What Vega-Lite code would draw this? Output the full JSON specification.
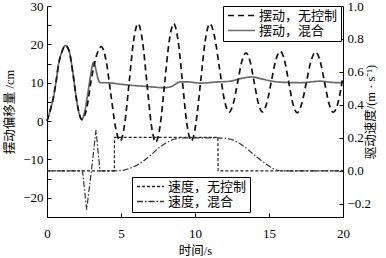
{
  "$schema": "https://vega.github.io/schema/vega-lite/v6.json",
  "width": 296,
  "height": 211,
  "autosize": "none",
  "padding": {"left": 47, "top": 6, "right": 43, "bottom": 41},
  "config": {
    "view": {"stroke": null},
    "axis": {
      "grid": false,
      "domainColor": "#000",
      "domainWidth": 1,
      "tickColor": "#000",
      "tickSize": -4,
      "labelColor": "#000",
      "labelFont": "Liberation Serif",
      "labelFontSize": 13,
      "labelFlush": false,
      "labelPadding": 8,
      "titleFont": "Liberation Serif, Noto Sans CJK SC",
      "titleFontSize": 12.5,
      "titleFontWeight": "normal",
      "titleColor": "#000"
    },
    "legend": {
      "orient": "none",
      "title": null,
      "strokeColor": "#000",
      "padding": 3,
      "fillColor": "#fff",
      "labelFont": "Liberation Serif, Noto Sans CJK SC",
      "labelFontSize": 13,
      "labelColor": "#000",
      "labelOffset": 20,
      "symbolType": "M-1,0H5",
      "symbolSize": 81,
      "rowPadding": 1
    }
  },
  "datasets": {
    "disp": [
      {"t": 0, "v": 0, "k": "摆动，混合"},
      {"t": 0.25, "v": 3.3, "k": "摆动，混合"},
      {"t": 0.45, "v": 6.5, "k": "摆动，混合"},
      {"t": 0.62, "v": 10.5, "k": "摆动，混合"},
      {"t": 0.79, "v": 15, "k": "摆动，混合"},
      {"t": 1.0, "v": 18, "k": "摆动，混合"},
      {"t": 1.24, "v": 19.7, "k": "摆动，混合"},
      {"t": 1.5, "v": 18.2, "k": "摆动，混合"},
      {"t": 1.75, "v": 12.5, "k": "摆动，混合"},
      {"t": 2.0, "v": 5.5, "k": "摆动，混合"},
      {"t": 2.2, "v": 1.6, "k": "摆动，混合"},
      {"t": 2.36, "v": 0.4, "k": "摆动，混合"},
      {"t": 2.55, "v": 2.5, "k": "摆动，混合"},
      {"t": 2.75, "v": 7, "k": "摆动，混合"},
      {"t": 2.95, "v": 12, "k": "摆动，混合"},
      {"t": 3.1, "v": 15, "k": "摆动，混合"},
      {"t": 3.17, "v": 15.4, "k": "摆动，混合"},
      {"t": 3.3, "v": 13.5, "k": "摆动，混合"},
      {"t": 3.45, "v": 11, "k": "摆动，混合"},
      {"t": 3.6, "v": 10.0, "k": "摆动，混合"},
      {"t": 4.0, "v": 10.0, "k": "摆动，混合"},
      {"t": 5.0, "v": 9.6, "k": "摆动，混合"},
      {"t": 5.5, "v": 9.4, "k": "摆动，混合"},
      {"t": 6.8, "v": 9.0, "k": "摆动，混合"},
      {"t": 7.9, "v": 8.7, "k": "摆动，混合"},
      {"t": 8.4, "v": 9.0, "k": "摆动，混合"},
      {"t": 9.0, "v": 10.2, "k": "摆动，混合"},
      {"t": 9.5, "v": 10.2, "k": "摆动，混合"},
      {"t": 10.4, "v": 9.9, "k": "摆动，混合"},
      {"t": 11.5, "v": 10.2, "k": "摆动，混合"},
      {"t": 12.4, "v": 10.4, "k": "摆动，混合"},
      {"t": 13.0, "v": 11.0, "k": "摆动，混合"},
      {"t": 13.85, "v": 11.5, "k": "摆动，混合"},
      {"t": 14.5, "v": 11.0, "k": "摆动，混合"},
      {"t": 15.2, "v": 10.4, "k": "摆动，混合"},
      {"t": 16.0, "v": 10.1, "k": "摆动，混合"},
      {"t": 17.1, "v": 10.0, "k": "摆动，混合"},
      {"t": 18.5, "v": 10.4, "k": "摆动，混合"},
      {"t": 19.2, "v": 10.1, "k": "摆动，混合"},
      {"t": 20, "v": 10.0, "k": "摆动，混合"},
      {"t": 0, "v": 0, "k": "摆动，无控制"},
      {"t": 0.25, "v": 3.3, "k": "摆动，无控制"},
      {"t": 0.45, "v": 6.5, "k": "摆动，无控制"},
      {"t": 0.62, "v": 10.5, "k": "摆动，无控制"},
      {"t": 0.79, "v": 15, "k": "摆动，无控制"},
      {"t": 1.0, "v": 18, "k": "摆动，无控制"},
      {"t": 1.24, "v": 19.7, "k": "摆动，无控制"},
      {"t": 1.5, "v": 18.2, "k": "摆动，无控制"},
      {"t": 1.75, "v": 12.5, "k": "摆动，无控制"},
      {"t": 2.0, "v": 5.5, "k": "摆动，无控制"},
      {"t": 2.2, "v": 1.6, "k": "摆动，无控制"},
      {"t": 2.36, "v": 0.4, "k": "摆动，无控制"},
      {"t": 2.69, "v": 3.5, "k": "摆动，无控制"},
      {"t": 3.0, "v": 11, "k": "摆动，无控制"},
      {"t": 3.34, "v": 17, "k": "摆动，无控制"},
      {"t": 3.67, "v": 19.4, "k": "摆动，无控制"},
      {"t": 3.99, "v": 15.8, "k": "摆动，无控制"},
      {"t": 4.31, "v": 7.1, "k": "摆动，无控制"},
      {"t": 4.63, "v": -1.6, "k": "摆动，无控制"},
      {"t": 4.95, "v": -5.2, "k": "摆动，无控制"},
      {"t": 5.25, "v": -0.7, "k": "摆动，无控制"},
      {"t": 5.55, "v": 10.1, "k": "摆动，无控制"},
      {"t": 5.85, "v": 20.9, "k": "摆动，无控制"},
      {"t": 6.15, "v": 25.4, "k": "摆动，无控制"},
      {"t": 6.45, "v": 20.9, "k": "摆动，无控制"},
      {"t": 6.75, "v": 10.0, "k": "摆动，无控制"},
      {"t": 7.05, "v": -1.0, "k": "摆动，无控制"},
      {"t": 7.35, "v": -5.5, "k": "摆动，无控制"},
      {"t": 7.65, "v": -1.0, "k": "摆动，无控制"},
      {"t": 7.955, "v": 10.0, "k": "摆动，无控制"},
      {"t": 8.26, "v": 20.9, "k": "摆动，无控制"},
      {"t": 8.56, "v": 25.4, "k": "摆动，无控制"},
      {"t": 8.86, "v": 20.9, "k": "摆动，无控制"},
      {"t": 9.155, "v": 10.1, "k": "摆动，无控制"},
      {"t": 9.45, "v": -0.7, "k": "摆动，无控制"},
      {"t": 9.75, "v": -5.2, "k": "摆动，无控制"},
      {"t": 10.06, "v": -0.7, "k": "摆动，无控制"},
      {"t": 10.375, "v": 10.1, "k": "摆动，无控制"},
      {"t": 10.69, "v": 20.9, "k": "摆动，无控制"},
      {"t": 11.0, "v": 25.4, "k": "摆动，无控制"},
      {"t": 11.325, "v": 22.0, "k": "摆动，无控制"},
      {"t": 11.65, "v": 13.9, "k": "摆动，无控制"},
      {"t": 11.975, "v": 5.7, "k": "摆动，无控制"},
      {"t": 12.3, "v": 2.3, "k": "摆动，无控制"},
      {"t": 12.59, "v": 4.6, "k": "摆动，无控制"},
      {"t": 12.875, "v": 10.0, "k": "摆动，无控制"},
      {"t": 13.16, "v": 15.5, "k": "摆动，无控制"},
      {"t": 13.45, "v": 17.8, "k": "摆动，无控制"},
      {"t": 13.725, "v": 15.5, "k": "摆动，无控制"},
      {"t": 14.0, "v": 10.1, "k": "摆动，无控制"},
      {"t": 14.275, "v": 4.7, "k": "摆动，无控制"},
      {"t": 14.55, "v": 2.4, "k": "摆动，无控制"},
      {"t": 14.85, "v": 4.7, "k": "摆动，无控制"},
      {"t": 15.155, "v": 10.3, "k": "摆动，无控制"},
      {"t": 15.46, "v": 15.9, "k": "摆动，无控制"},
      {"t": 15.76, "v": 18.2, "k": "摆动，无控制"},
      {"t": 16.045, "v": 15.9, "k": "摆动，无控制"},
      {"t": 16.33, "v": 10.2, "k": "摆动，无控制"},
      {"t": 16.615, "v": 4.5, "k": "摆动，无控制"},
      {"t": 16.9, "v": 2.2, "k": "摆动，无控制"},
      {"t": 17.21, "v": 4.5, "k": "摆动，无控制"},
      {"t": 17.525, "v": 10.1, "k": "摆动，无控制"},
      {"t": 17.84, "v": 15.7, "k": "摆动，无控制"},
      {"t": 18.15, "v": 18.0, "k": "摆动，无控制"},
      {"t": 18.45, "v": 15.7, "k": "摆动，无控制"},
      {"t": 18.75, "v": 10.2, "k": "摆动，无控制"},
      {"t": 19.05, "v": 4.6, "k": "摆动，无控制"},
      {"t": 19.35, "v": 2.3, "k": "摆动，无控制"},
      {"t": 19.65, "v": 4.6, "k": "摆动，无控制"},
      {"t": 19.85, "v": 8.2, "k": "摆动，无控制"},
      {"t": 20, "v": 11.8, "k": "摆动，无控制"}
    ],
    "speed": [
      {"t": 0, "v": 0, "k": "速度，无控制"},
      {"t": 4.55, "v": 0, "k": "速度，无控制"},
      {"t": 4.56, "v": 0.203, "k": "速度，无控制"},
      {"t": 11.55, "v": 0.203, "k": "速度，无控制"},
      {"t": 11.56, "v": 0, "k": "速度，无控制"},
      {"t": 20, "v": 0, "k": "速度，无控制"},
      {"t": 0, "v": 0, "k": "速度，混合"},
      {"t": 2.4, "v": 0, "k": "速度，混合"},
      {"t": 2.68, "v": -0.235, "k": "速度，混合"},
      {"t": 3.0, "v": 0, "k": "速度，混合"},
      {"t": 3.31, "v": 0.248, "k": "速度，混合"},
      {"t": 3.58, "v": 0, "k": "速度，混合"},
      {"t": 4.8, "v": 0, "k": "速度，混合"},
      {"t": 5.2, "v": 0.004, "k": "速度，混合"},
      {"t": 5.6, "v": 0.015, "k": "速度，混合"},
      {"t": 6.0, "v": 0.03, "k": "速度，混合"},
      {"t": 6.5, "v": 0.058, "k": "速度，混合"},
      {"t": 7.0, "v": 0.095, "k": "速度，混合"},
      {"t": 7.5, "v": 0.135, "k": "速度，混合"},
      {"t": 8.0, "v": 0.168, "k": "速度，混合"},
      {"t": 8.5, "v": 0.19, "k": "速度，混合"},
      {"t": 9.0, "v": 0.2, "k": "速度，混合"},
      {"t": 11.6, "v": 0.2, "k": "速度，混合"},
      {"t": 12.0, "v": 0.198, "k": "速度，混合"},
      {"t": 12.5, "v": 0.19, "k": "速度，混合"},
      {"t": 13.0, "v": 0.168, "k": "速度，混合"},
      {"t": 13.5, "v": 0.135, "k": "速度，混合"},
      {"t": 14.0, "v": 0.097, "k": "速度，混合"},
      {"t": 14.5, "v": 0.06, "k": "速度，混合"},
      {"t": 15.0, "v": 0.03, "k": "速度，混合"},
      {"t": 15.3, "v": 0.012, "k": "速度，混合"},
      {"t": 15.6, "v": 0.002, "k": "速度，混合"},
      {"t": 16.0, "v": 0, "k": "速度，混合"},
      {"t": 20, "v": 0, "k": "速度，混合"}
    ]
  },
  "layer": [
    {
      "data": {"name": "disp"},
      "mark": {"type": "line", "interpolate": "monotone", "strokeWidth": 1.7},
      "encoding": {
        "x": {
          "field": "t", "type": "quantitative",
          "scale": {"domain": [0, 20], "nice": false},
          "axis": {"title": "时间/s", "values": [0, 5, 10, 15, 20], "labelPadding": 14, "titlePadding": 4}
        },
        "y": {
          "field": "v", "type": "quantitative",
          "scale": {"domain": [-25, 30], "nice": false},
          "axis": {
            "title": "摆动偏移量 /cm",
            "values": [-25, -20, -15, -10, -5, 0, 5, 10, 15, 20, 25, 30],
            "labelExpr": "datum.value % 10 === 0 ? datum.label : ''",
            "titlePadding": 6
          }
        },
        "color": {
          "field": "k", "type": "nominal",
          "scale": {"domain": ["摆动，无控制", "摆动，混合"], "range": ["#111111", "#6a6a6a"]},
          "legend": {"legendX": 176, "legendY": 0}
        },
        "strokeDash": {
          "field": "k", "type": "nominal",
          "scale": {"domain": ["摆动，无控制", "摆动，混合"], "range": [[6, 4], [1, 0]]},
          "legend": {"legendX": 176, "legendY": 0}
        }
      }
    },
    {
      "data": {"name": "speed"},
      "mark": {"type": "line", "strokeWidth": 1.2},
      "encoding": {
        "x": {"field": "t", "type": "quantitative", "scale": {"domain": [0, 20], "nice": false}},
        "y": {
          "field": "v", "type": "quantitative",
          "scale": {"domain": [-0.28, 1], "nice": false, "zero": false},
          "axis": {
            "orient": "right",
            "title": "驱动速度/(m · s⁻¹)",
            "titleAngle": 270,
            "values": [-0.2, 0, 0.2, 0.4, 0.6, 0.8, 1],
            "labelPadding": 8,
            "titlePadding": 7
          }
        },
        "color": {
          "field": "k", "type": "nominal",
          "scale": {"domain": ["速度，无控制", "速度，混合"], "range": ["#222222", "#333333"]},
          "legend": {"legendX": 85, "legendY": 171}
        },
        "strokeDash": {
          "field": "k", "type": "nominal",
          "scale": {"domain": ["速度，无控制", "速度，混合"], "range": [[3, 2], [6, 2, 1.5, 2]]},
          "legend": {"legendX": 85, "legendY": 171}
        }
      }
    }
  ],
  "resolve": {
    "scale": {"y": "independent", "color": "independent", "strokeDash": "independent"},
    "legend": {"color": "independent", "strokeDash": "independent"}
  }
}
